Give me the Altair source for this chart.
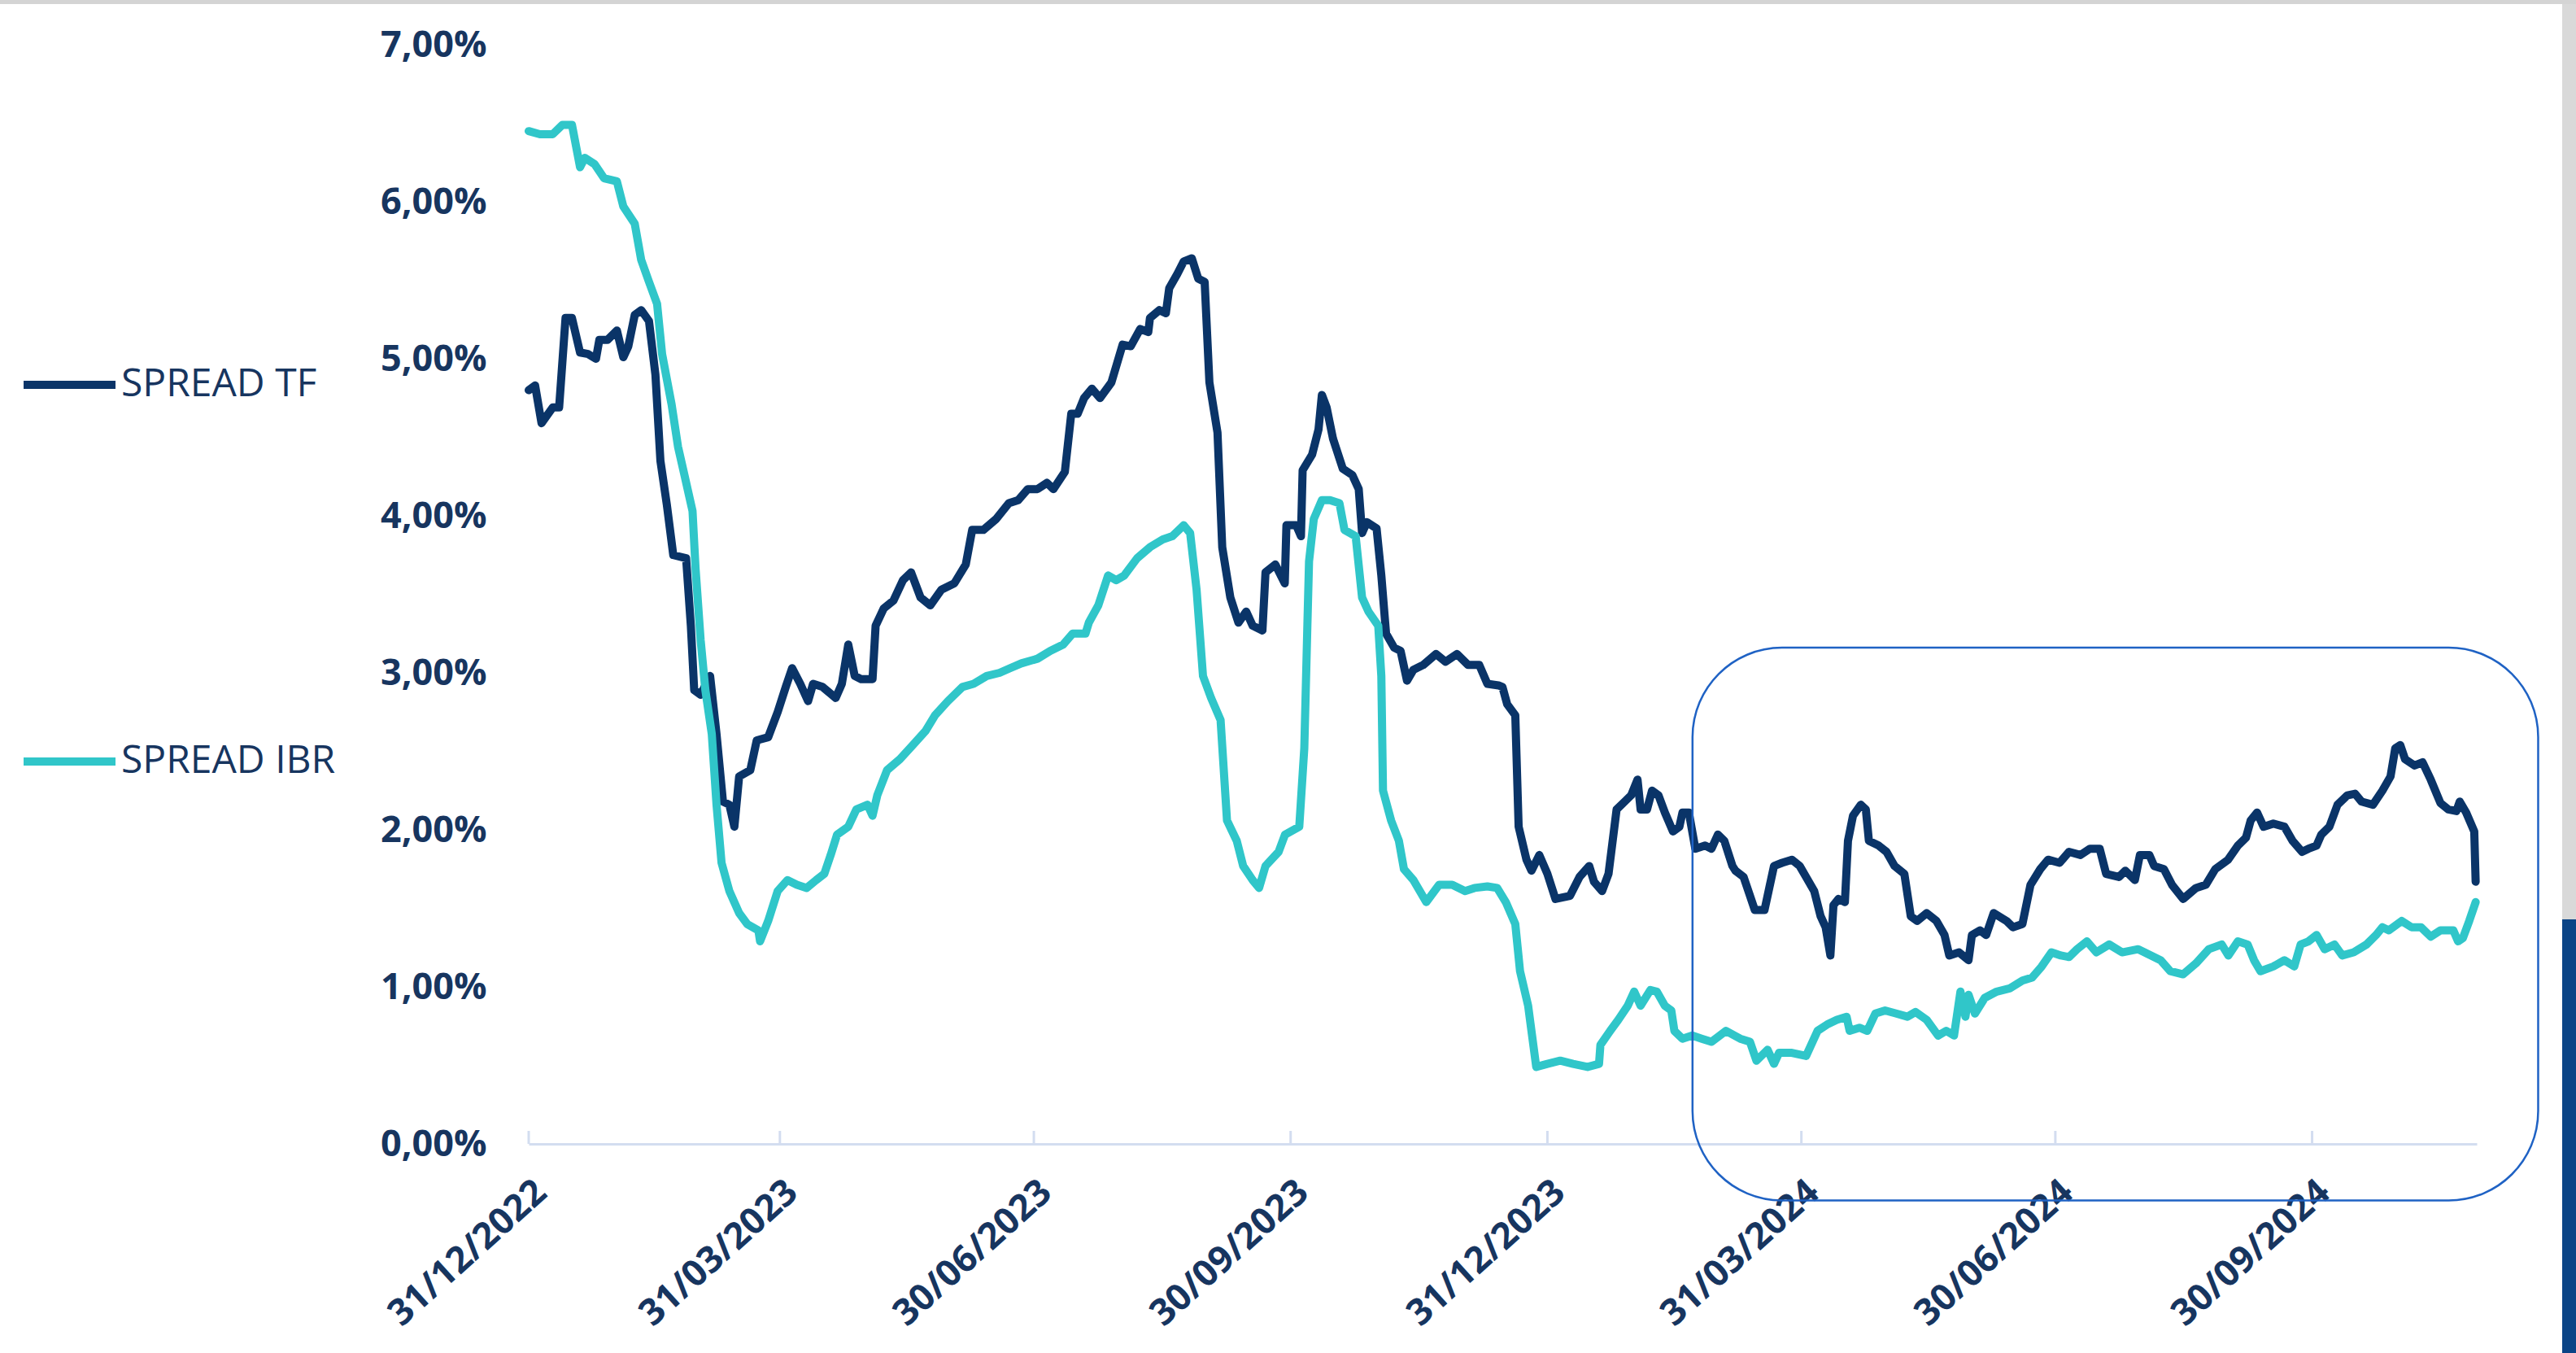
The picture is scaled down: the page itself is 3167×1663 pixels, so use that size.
import altair as alt
import pandas as pd

# ---------------- data ----------------
BASE_DATE = "2022-12-31"          # day 0 of the offsets below
END_DATE = "2024-11-28"           # last observation / end of axis

# SPREAD TF : day offset from 31/12/2022, value in %
tf_day = [0, 2.3, 4.6, 8.6, 10.9, 13.2, 15.5, 18.4, 21.3, 24.1, 25.3, 28.2, 31.6, 33.9, 35.7,
          38.0, 40.3, 43.1, 45.4, 47.2, 49.5, 51.8, 56.4, 58.1, 59.3, 61.6, 65.0, 67.3, 69.6,
          71.9, 73.7, 75.4, 79.4, 81.7, 85.8, 89.2, 92.1, 94.4, 97.3, 100.1, 101.9, 105.3,
          110.0, 112.2, 114.5, 116.8, 119.1, 123.2, 124.3, 127.2, 130.7, 134.1, 137.0, 140.4,
          143.9, 147.9, 152.5, 156.6, 158.9, 162.9, 167.5, 172.0, 175.4, 178.8, 182.3, 185.7,
          188.0, 192.1, 194.4, 196.7, 199.0, 201.8, 204.7, 208.8, 212.8, 215.7, 219.1, 222.0,
          222.6, 226.0, 228.3, 229.5, 232.4, 234.7, 237.6, 239.9, 242.2, 243.9, 246.8, 248.5,
          251.4, 254.3, 257.1, 259.4, 262.9, 264.0, 267.5, 270.9, 271.5, 275.0, 276.7, 277.3,
          280.7, 283.0, 284.2, 285.9, 288.2, 291.7, 295.1, 297.4, 298.6, 300.3, 303.8, 305.5,
          307.2, 310.1, 312.4, 314.7, 317.0, 320.5, 325.1, 328.5, 332.6, 336.6, 340.6, 343.5,
          347.5, 348.9, 350.6, 353.5, 354.7, 357.5, 359.3, 362.1, 365.0, 367.9, 373.1, 376.5,
          380.0, 381.7, 384.6, 386.9, 389.8, 392.7, 395.0, 397.3, 398.4, 400.7, 402.5, 404.8,
          407.1, 410.0, 412.3, 413.4, 415.7, 418.0, 421.5, 423.8, 426.1, 428.4, 431.3, 432.4,
          435.3, 437.6, 439.3, 442.8, 444.5, 446.2, 449.1, 452.6, 455.4, 457.7, 460.6, 462.9,
          464.7, 466.4, 467.5, 469.3, 471.6, 472.7, 474.5, 477.3, 479.1, 480.2, 483.7, 486.5,
          489.4, 492.9, 495.2, 497.5, 500.9, 504.4, 507.3, 509.0, 512.5, 515.9, 517.1, 520.0,
          522.2, 524.9, 529.5, 531.8, 535.2, 538.1, 541.6, 544.4, 548.5, 551.9, 556.0, 559.4,
          562.9, 565.2, 569.8, 572.1, 575.5, 577.3, 580.7, 582.4, 585.9, 588.8, 592.8, 597.4,
          600.9, 604.3, 608.9, 612.4, 615.3, 617.0, 619.3, 621.6, 625.1, 629.1, 632.0, 635.4,
          637.7, 640.6, 642.3, 645.2, 648.1, 651.6, 654.4, 656.7, 660.8, 664.2, 667.1, 668.8,
          670.6, 672.3, 675.7, 678.6, 681.5, 685.0, 687.8, 690.7, 691.9, 694.2, 697.1, 697.6]
tf_val = [4.80, 4.83, 4.59, 4.69, 4.69, 5.26, 5.26, 5.04, 5.03, 5.00, 5.12, 5.12, 5.18, 5.01, 5.08,
          5.28, 5.31, 5.24, 4.90, 4.35, 4.07, 3.75, 3.73, 3.30, 2.89, 2.86, 2.98, 2.61, 2.18,
          2.16, 2.02, 2.34, 2.38, 2.57, 2.59, 2.75, 2.91, 3.03, 2.93, 2.82, 2.93, 2.91,
          2.84, 2.93, 3.18, 2.98, 2.96, 2.96, 3.30, 3.41, 3.46, 3.59, 3.64, 3.48,
          3.43, 3.53, 3.57, 3.69, 3.91, 3.91, 3.98, 4.08, 4.10, 4.17, 4.17, 4.21,
          4.17, 4.28, 4.65, 4.65, 4.75, 4.81, 4.75, 4.85, 5.09, 5.08, 5.19, 5.17,
          5.26, 5.31, 5.29, 5.45, 5.54, 5.62, 5.64, 5.51, 5.49, 4.85, 4.53, 3.80,
          3.48, 3.32, 3.39, 3.30, 3.27, 3.64, 3.69, 3.57, 3.94, 3.94, 3.87, 4.29,
          4.39, 4.55, 4.77, 4.69, 4.49, 4.30, 4.26, 4.17, 3.89, 3.96, 3.92, 3.62,
          3.25, 3.16, 3.14, 2.95, 3.02, 3.05, 3.12, 3.07, 3.12, 3.05, 3.05, 2.93,
          2.92, 2.91, 2.80, 2.73, 2.02, 1.81, 1.74, 1.84, 1.72, 1.56, 1.58, 1.70,
          1.77, 1.67, 1.61, 1.72, 2.13, 2.18, 2.22, 2.32, 2.13, 2.13, 2.25, 2.22,
          2.11, 1.99, 2.02, 2.11, 2.11, 1.88, 1.90, 1.88, 1.97, 1.93, 1.77, 1.74,
          1.70, 1.58, 1.49, 1.49, 1.63, 1.77, 1.79, 1.81, 1.77, 1.70, 1.61, 1.45,
          1.38, 1.20, 1.52, 1.56, 1.54, 1.93, 2.09, 2.16, 2.13, 1.93, 1.90, 1.86,
          1.77, 1.72, 1.45, 1.42, 1.47, 1.42, 1.33, 1.20, 1.22, 1.17, 1.33, 1.36,
          1.33, 1.47, 1.42, 1.38, 1.40, 1.65, 1.75, 1.81, 1.79, 1.86, 1.84, 1.88,
          1.88, 1.72, 1.70, 1.74, 1.68, 1.84, 1.84, 1.77, 1.75, 1.65, 1.56, 1.63,
          1.65, 1.75, 1.81, 1.90, 1.95, 2.06, 2.11, 2.02, 2.04, 2.02, 1.93, 1.86,
          1.88, 1.90, 1.97, 2.02, 2.16, 2.22, 2.23, 2.18, 2.16, 2.25, 2.34, 2.52,
          2.54, 2.45, 2.41, 2.43, 2.32, 2.17, 2.13, 2.12, 2.18, 2.11, 1.99, 1.67]

# SPREAD IBR : day offset from 31/12/2022, value in %
ibr_day = [0, 4.0, 8.6, 12.1, 15.5, 18.4, 20.1, 23.6, 27.0, 31.6, 33.9, 38.0, 40.3, 43.1, 46.0,
           47.8, 51.2, 53.5, 55.8, 58.7, 59.8, 61.6, 63.3, 65.6, 67.3, 69.1, 71.9, 75.4, 78.3,
           82.3, 82.9, 85.8, 89.2, 92.7, 96.1, 99.6, 103.0, 105.9, 108.2, 110.5, 114.5, 117.4,
           121.4, 123.2, 124.9, 128.4, 133.0, 137.6, 142.2, 145.6, 150.2, 155.4, 159.4, 164.1,
           168.7, 172.5, 176.5, 182.3, 186.9, 191.5, 194.9, 199.5, 200.7, 204.1, 207.6, 210.5,
           213.4, 218.0, 222.6, 227.2, 230.6, 234.7, 237.0, 239.3, 241.6, 244.5, 247.9, 250.2,
           253.7, 256.0, 259.4, 261.7, 264.0, 268.7, 271.0, 276.1, 277.9, 279.0, 279.6, 281.3,
           284.2, 287.1, 290.5, 292.3, 296.3, 298.6, 300.9, 304.4, 305.5, 306.1, 309.0, 311.8,
           313.6, 317.0, 321.6, 326.2, 330.9, 335.5, 338.9, 343.5, 347.0, 350.1, 353.5, 355.2,
           358.1, 361.0, 365.0, 369.6, 374.2, 379.4, 383.5, 384.0, 387.5, 390.4, 393.8, 396.1,
           398.4, 401.9, 404.2, 407.1, 409.4, 410.5, 413.4, 416.9, 420.3, 423.8, 429.0, 434.1,
           437.6, 439.9, 443.9, 446.2, 448.0, 452.6, 457.7, 461.8, 465.2, 468.7, 472.2, 473.3,
           476.8, 479.6, 482.5, 486.0, 490.0, 494.0, 496.9, 500.9, 505.0, 507.9, 510.7, 513.0,
           514.8, 515.9, 518.2, 521.7, 526.0, 530.6, 535.2, 538.7, 542.1, 545.6, 549.0, 551.9,
           554.8, 558.3, 561.7, 566.3, 570.9, 576.7, 581.3, 584.7, 588.2, 592.8, 597.4, 602.0,
           606.6, 609.0, 612.4, 615.9, 618.2, 620.5, 625.1, 629.1, 632.6, 634.9, 637.7, 640.6,
           643.5, 647.0, 649.8, 653.9, 658.5, 661.9, 664.2, 666.5, 671.1, 674.6, 678.0, 681.5,
           685.0, 689.6, 691.3, 693.0, 695.3, 697.6]
ibr_val = [6.45, 6.43, 6.43, 6.49, 6.49, 6.22, 6.28, 6.24, 6.15, 6.13, 5.97, 5.86, 5.63, 5.49, 5.35,
           5.03, 4.71, 4.44, 4.26, 4.03, 3.66, 3.21, 2.89, 2.61, 2.16, 1.79, 1.61, 1.47, 1.40,
           1.36, 1.29, 1.42, 1.61, 1.68, 1.65, 1.63, 1.68, 1.72, 1.84, 1.97, 2.02, 2.13,
           2.16, 2.09, 2.22, 2.38, 2.45, 2.54, 2.63, 2.73, 2.82, 2.91, 2.93, 2.98,
           3.00, 3.03, 3.06, 3.09, 3.14, 3.18, 3.25, 3.25, 3.32, 3.43, 3.62, 3.59,
           3.62, 3.73, 3.80, 3.85, 3.87, 3.94, 3.89, 3.53, 2.98, 2.84, 2.70, 2.06,
           1.93, 1.77, 1.68, 1.63, 1.77, 1.86, 1.97, 2.02, 2.52, 3.30, 3.71, 3.98,
           4.10, 4.10, 4.08, 3.91, 3.87, 3.48, 3.39, 3.30, 2.98, 2.25, 2.06, 1.93,
           1.75, 1.68, 1.54, 1.65, 1.65, 1.61, 1.63, 1.64, 1.63, 1.54, 1.40, 1.10,
           0.88, 0.49, 0.51, 0.53, 0.51, 0.49, 0.51, 0.63, 0.72, 0.79, 0.88, 0.97,
           0.88, 0.98, 0.97, 0.88, 0.85, 0.72, 0.67, 0.69, 0.67, 0.65, 0.72, 0.67,
           0.65, 0.53, 0.60, 0.51, 0.58, 0.58, 0.56, 0.72, 0.76, 0.79, 0.81, 0.72,
           0.74, 0.72, 0.83, 0.85, 0.83, 0.81, 0.84, 0.79, 0.69, 0.72, 0.69, 0.97,
           0.81, 0.95, 0.83, 0.93, 0.97, 0.99, 1.04, 1.06, 1.13, 1.22, 1.20, 1.19,
           1.24, 1.29, 1.22, 1.27, 1.22, 1.24, 1.20, 1.17, 1.10, 1.08, 1.15, 1.24,
           1.27, 1.20, 1.29, 1.27, 1.17, 1.10, 1.13, 1.17, 1.13, 1.27, 1.29, 1.33,
           1.24, 1.27, 1.20, 1.22, 1.27, 1.33, 1.38, 1.36, 1.42, 1.38, 1.38, 1.32,
           1.36, 1.36, 1.29, 1.31, 1.42, 1.54]

series_names = ["SPREAD TF", "SPREAD IBR"]
tick_dates = ["2022-12-31", "2023-03-31", "2023-06-30", "2023-09-30",
              "2023-12-31", "2024-03-31", "2024-06-30", "2024-09-30"]
y_ticks = [0, 1, 2, 3, 4, 5, 6, 7]

# highlighted window (rounded box)
box_start, box_end = "2024-02-21", "2024-12-20"
box_top, box_bottom = 3.16, -0.36

# ---------------- styling ----------------
NAVY = "#0a3468"
TEAL = "#30c6c9"
TEXT = "#17355f"
AXIS = "#d3ddf0"
FONT = "Open Sans"

W, H = 2395, 1351
PAD = {"left": 650, "top": 55, "right": 122, "bottom": 257}


def ms(date_str):
    return int(pd.Timestamp(date_str).value // 10**6)


def day_ms(d):
    return int((pd.Timestamp(BASE_DATE) + pd.to_timedelta(d, unit="D")).value // 10**6)


rows = []
for i, (d, v) in enumerate(zip(tf_day, tf_val)):
    rows.append({"t": day_ms(d), "v": v, "series": series_names[0], "o": i})
for i, (d, v) in enumerate(zip(ibr_day, ibr_val)):
    rows.append({"t": day_ms(d), "v": v, "series": series_names[1], "o": i})
df = pd.DataFrame(rows)

tick_ms = [ms(d) for d in tick_dates]
x_scale = alt.Scale(type="utc", domain=[ms(BASE_DATE), ms(END_DATE)])
y_scale = alt.Scale(domain=[0, 7], nice=False, zero=True)

x_axis = alt.Axis(values=tick_ms, format="%d/%m/%Y", labelAngle=318, labelAlign="right",
                  labelBaseline="top", labelFont=FONT, labelFontWeight="bold", labelFontSize=45,
                  labelColor=TEXT, labelPadding=36, labelOffset=0, ticks=False,
                  domainColor=AXIS, domainWidth=3, grid=False, title=None, labelLimit=2000,
                  labelOverlap=False, labelFlush=False, labelBound=False)
y_axis = alt.Axis(values=y_ticks, labelExpr="replace(format(datum.value, '.2f'), '.', ',') + '%'",
                  labelFont=FONT, labelFontWeight="bold", labelFontSize=45, labelColor=TEXT,
                  labelPadding=52, domain=False, ticks=False, grid=False, title=None,
                  labelLimit=2000)

color = alt.Color("series:N",
                  scale=alt.Scale(domain=series_names, range=[NAVY, TEAL]),
                  legend=alt.Legend(orient="none", legendX=-626, legendY=356.5, title=None,
                                    symbolType="stroke", symbolSize=12769, symbolStrokeWidth=10,
                                    labelFont=FONT, labelFontSize=48, labelColor=TEXT,
                                    labelOffset=2, rowPadding=377, padding=0, symbolOffset=0,
                                    labelLimit=2000))

base = alt.Chart(df)


def series_layer(name):
    return base.transform_filter(alt.datum.series == name).mark_line(
        strokeWidth=10, strokeCap="round", strokeJoin="round"
    ).encode(
        x=alt.X("t:T", scale=x_scale, axis=x_axis),
        y=alt.Y("v:Q", scale=y_scale, axis=y_axis),
        color=color,
        order=alt.Order("o:Q"),
    )


ticks = alt.Chart(pd.DataFrame({"t": tick_ms})).mark_rule(color=AXIS, strokeWidth=3).encode(
    x=alt.X("t:T", scale=x_scale), y=alt.value(H - 16), y2=alt.value(H)
)

box = alt.Chart(pd.DataFrame({"s": [ms(box_start)], "e": [ms(box_end)],
                              "top": [box_top], "bot": [box_bottom]})).mark_rect(
    fill="transparent", stroke="#1f62c4", strokeWidth=2.5, cornerRadius=110
).encode(
    x=alt.X("s:T", scale=x_scale), x2="e:T",
    y=alt.Y("top:Q", scale=y_scale), y2="bot:Q"
)

one = pd.DataFrame({"a": [0]})
edge_gray = alt.Chart(one).mark_rect(color="#d9d9d9").encode(
    x=alt.value(W + 105), x2=alt.value(W + 122), y=alt.value(-55), y2=alt.value(1075))
edge_navy = alt.Chart(one).mark_rect(color="#0b4486").encode(
    x=alt.value(W + 105), x2=alt.value(W + 122), y=alt.value(1075), y2=alt.value(H + 257))
top_line = alt.Chart(one).mark_rect(color="#d4d4d4").encode(
    x=alt.value(-650), x2=alt.value(W + 122), y=alt.value(-55), y2=alt.value(-50))

chart = alt.layer(
    ticks, series_layer(series_names[0]), series_layer(series_names[1]), box,
    edge_gray, edge_navy, top_line
).properties(
    width=W, height=H, padding=PAD, autosize=alt.AutoSizeParams(type="none"),
    background="white"
).configure_view(strokeWidth=0)

chart.save("out.html", embed_options={"renderer": "svg", "actions": False})
